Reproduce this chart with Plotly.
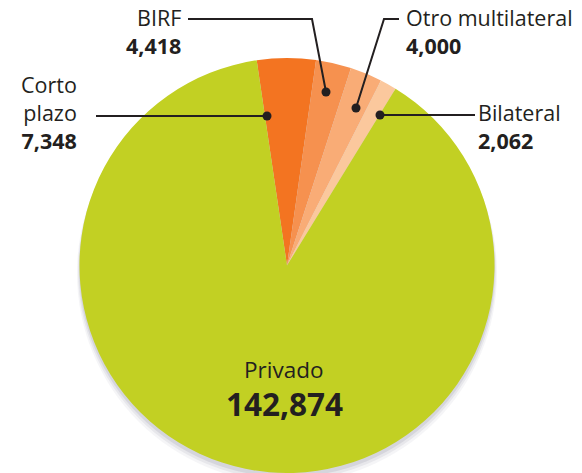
import plotly.graph_objects as go

# ---- data ----
labels = ["Corto plazo", "BIRF", "Otro multilateral", "Bilateral", "Privado"]
values = [7348, 4418, 4000, 2062, 142874]
colors = ["#F37421", "#F6914F", "#F9AC76", "#FBC89D", "#C2D023"]

W, H = 582, 473
def px(x):
    return x / W
def py(y):
    return 1 - y / H

# pie geometry in pixels
cx, cy, r = 287, 266, 208

fig = go.Figure()

fig.add_trace(go.Pie(
    labels=labels, values=values, sort=False, direction="clockwise", rotation=-8.4,
    marker=dict(colors=colors, line=dict(width=0)),
    textinfo="none", hoverinfo="label+value", showlegend=False,
    domain=dict(x=[px(cx - r), px(cx + r)], y=[max(0, py(cy + r)), py(cy - r)]),
))

TXT = "#231F20"
FONT = "Open Sans"
ann = []
def add(text, x, y, xanchor, size):
    ann.append(dict(
        text=text, x=px(x), y=py(y), xref="paper", yref="paper",
        xanchor=xanchor, yanchor="middle", align=xanchor, showarrow=False,
        font=dict(family=FONT, size=size, color=TXT),
    ))

def fmt(v):
    return f"{v:,}"

LS = 21.5
# Corto plazo
add("Corto<br>plazo<br><b>" + fmt(values[0]) + "</b>", 79, 112, "right", LS)
# BIRF
add(labels[1] + "<br><b>" + fmt(values[1]) + "</b>", 183, 32, "right", LS)
# Otro multilateral
add(labels[2] + "<br><b>" + fmt(values[2]) + "</b>", 404, 32, "left", LS)
# Bilateral
add(labels[3] + "<br><b>" + fmt(values[3]) + "</b>", 476, 126, "left", LS)
# Privado
add(labels[4], 283, 369, "center", 22.5)
add("<b>" + fmt(values[4]) + "</b>", 284, 403, "center", 31.5)

shapes = []
# soft drop shadow below the pie
for dy, grow, op in [(7, 2, 0.05), (5, 1, 0.07), (3, 0, 0.10)]:
    shapes.append(dict(type="circle", xref="paper", yref="paper", layer="below",
                       x0=px(cx - r - grow), x1=px(cx + r + grow),
                       y0=py(cy + dy + r + grow), y1=py(cy + dy - r - grow),
                       fillcolor=f"rgba(60,60,90,{op})", line=dict(width=0)))

def line(points):
    path = "M " + " L ".join(f"{px(x)},{py(y)}" for x, y in points)
    shapes.append(dict(type="path", path=path, xref="paper", yref="paper",
                       line=dict(color=TXT, width=2)))
def dot(x, y, rad=4.5):
    shapes.append(dict(type="circle", xref="paper", yref="paper",
                       x0=px(x - rad), x1=px(x + rad), y0=py(y + rad), y1=py(y - rad),
                       fillcolor=TXT, line=dict(width=0)))

line([(96, 116), (267, 116)]); dot(267, 116)
line([(188, 19), (312, 19), (326, 92)]); dot(326, 92)
line([(356, 108), (384, 19), (399, 19)]); dot(356, 108)
line([(380, 115), (475, 115)]); dot(380, 115)

fig.update_layout(
    width=W, height=H, margin=dict(l=0, r=0, t=0, b=0),
    paper_bgcolor="white", plot_bgcolor="white",
    annotations=ann, shapes=shapes, showlegend=False,
)
fig.write_html("out.html", config={"displayModeBar": False},
               post_script="document.body.style.margin='0';")
